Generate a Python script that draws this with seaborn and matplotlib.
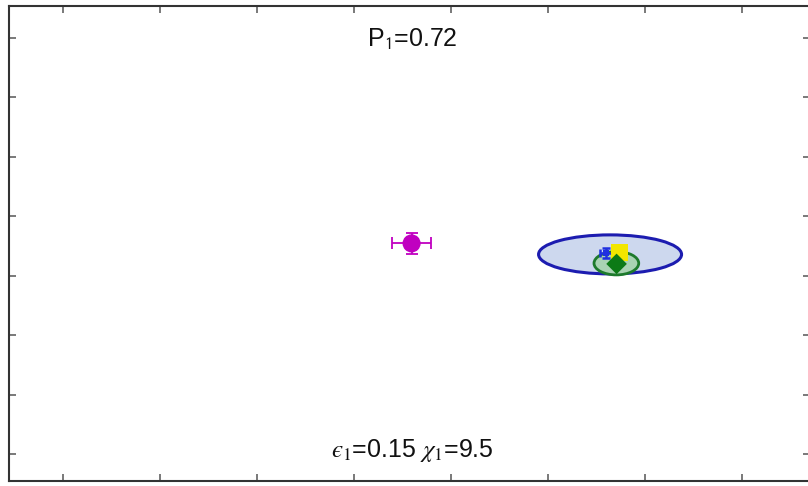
import numpy as np
import pandas as pd
import matplotlib
matplotlib.use("Agg")
import matplotlib.pyplot as plt
from matplotlib.patches import Ellipse
import seaborn as sns

# Axis ticks (unlabelled grid positions)
x_ticks = [1, 2, 3, 4, 5, 6, 7, 8]
y_ticks = [1, 2, 3, 4, 5, 6, 7, 8]
x_limits = [0.443, 8.70]
y_limits = [0.545, 8.54]

# Measured points with uncertainties
point_names = ["magenta", "blue", "yellow", "green"]
point_x = [4.593, 6.598, 6.732, 6.706]
point_y = [4.544, 4.384, 4.384, 4.199]
point_xerr = [0.20, 0.06, 0.0, 0.0]
point_yerr = [0.177, 0.085, 0.0, 0.0]

# Confidence ellipses: centre, full width, full height
ellipse_x = [6.639, 6.704]
ellipse_y = [4.359, 4.210]
ellipse_w = [1.474, 0.461]
ellipse_h = [0.657, 0.392]

title_top = r"P$_{\mathsf{1}}$=0.72"
title_bottom = "$\u03f5_1$=0.15 $\\chi_1$=9.5"

sns.set_theme(style="white")
plt.rcParams["font.family"] = ["Liberation Sans", "DejaVu Sans"]
plt.rcParams["mathtext.fontset"] = "stix"

fig = plt.figure(figsize=(8.08, 4.86), dpi=100)
ax = fig.add_axes([9 / 808, 5 / 486, 801 / 808, 475 / 486])

df = pd.DataFrame({"name": point_names, "x": point_x, "y": point_y,
                   "xerr": point_xerr, "yerr": point_yerr})

# Ellipses
ax.add_patch(Ellipse((ellipse_x[0], ellipse_y[0]), ellipse_w[0], ellipse_h[0],
                     facecolor="#cdd8ee", edgecolor="#1c1cb0", lw=2.2, zorder=2))
ax.add_patch(Ellipse((ellipse_x[1], ellipse_y[1]), ellipse_w[1], ellipse_h[1],
                     facecolor="#a9d3b3", edgecolor="#1d7a2c", lw=2.0, zorder=3))

# Error bars
m = df[df.name == "magenta"].iloc[0]
ax.errorbar(m.x, m.y, xerr=m.xerr, yerr=m.yerr, fmt="none", ecolor="#c000c0",
            elinewidth=1.3, capsize=4, capthick=1.3, zorder=4)
b = df[df.name == "blue"].iloc[0]
ax.errorbar(b.x, b.y, xerr=b.xerr, yerr=b.yerr, fmt="none", ecolor="#1f2fe0",
            elinewidth=1.8, capsize=3, capthick=1.8, zorder=4)

# Markers
sns.scatterplot(data=df[df.name == "magenta"], x="x", y="y", color="#c000c0",
                s=170, marker="o", edgecolor="none", ax=ax, zorder=5)
sns.scatterplot(data=df[df.name == "blue"], x="x", y="y", color="#1f2fe0",
                s=20, marker="s", edgecolor="none", ax=ax, zorder=5)
sns.scatterplot(data=df[df.name == "yellow"], x="x", y="y", color="#f2e600",
                s=150, marker="s", edgecolor="none", ax=ax, zorder=6)
sns.scatterplot(data=df[df.name == "green"], x="x", y="y", color="#0c7a16",
                s=110, marker="D", edgecolor="none", ax=ax, zorder=7)

ax.set_xlim(*x_limits)
ax.set_ylim(*y_limits)
ax.set_xticks(x_ticks)
ax.set_yticks(y_ticks)
ax.set_xticklabels([])
ax.set_yticklabels([])
ax.set_xlabel("")
ax.set_ylabel("")
ax.tick_params(direction="in", length=5, width=1.1, color="#555555",
               top=True, right=True, bottom=True, left=True)
for sp in ax.spines.values():
    sp.set_color("#333333")
    sp.set_linewidth(1.5)

ax.text(0.503, 0.914, title_top, transform=ax.transAxes, ha="center",
        va="baseline", fontsize=18, color="#111111")
ax.text(0.503, 0.05, title_bottom, transform=ax.transAxes, ha="center",
        va="baseline", fontsize=18, color="#111111")

fig.savefig("out.png", dpi=100)
